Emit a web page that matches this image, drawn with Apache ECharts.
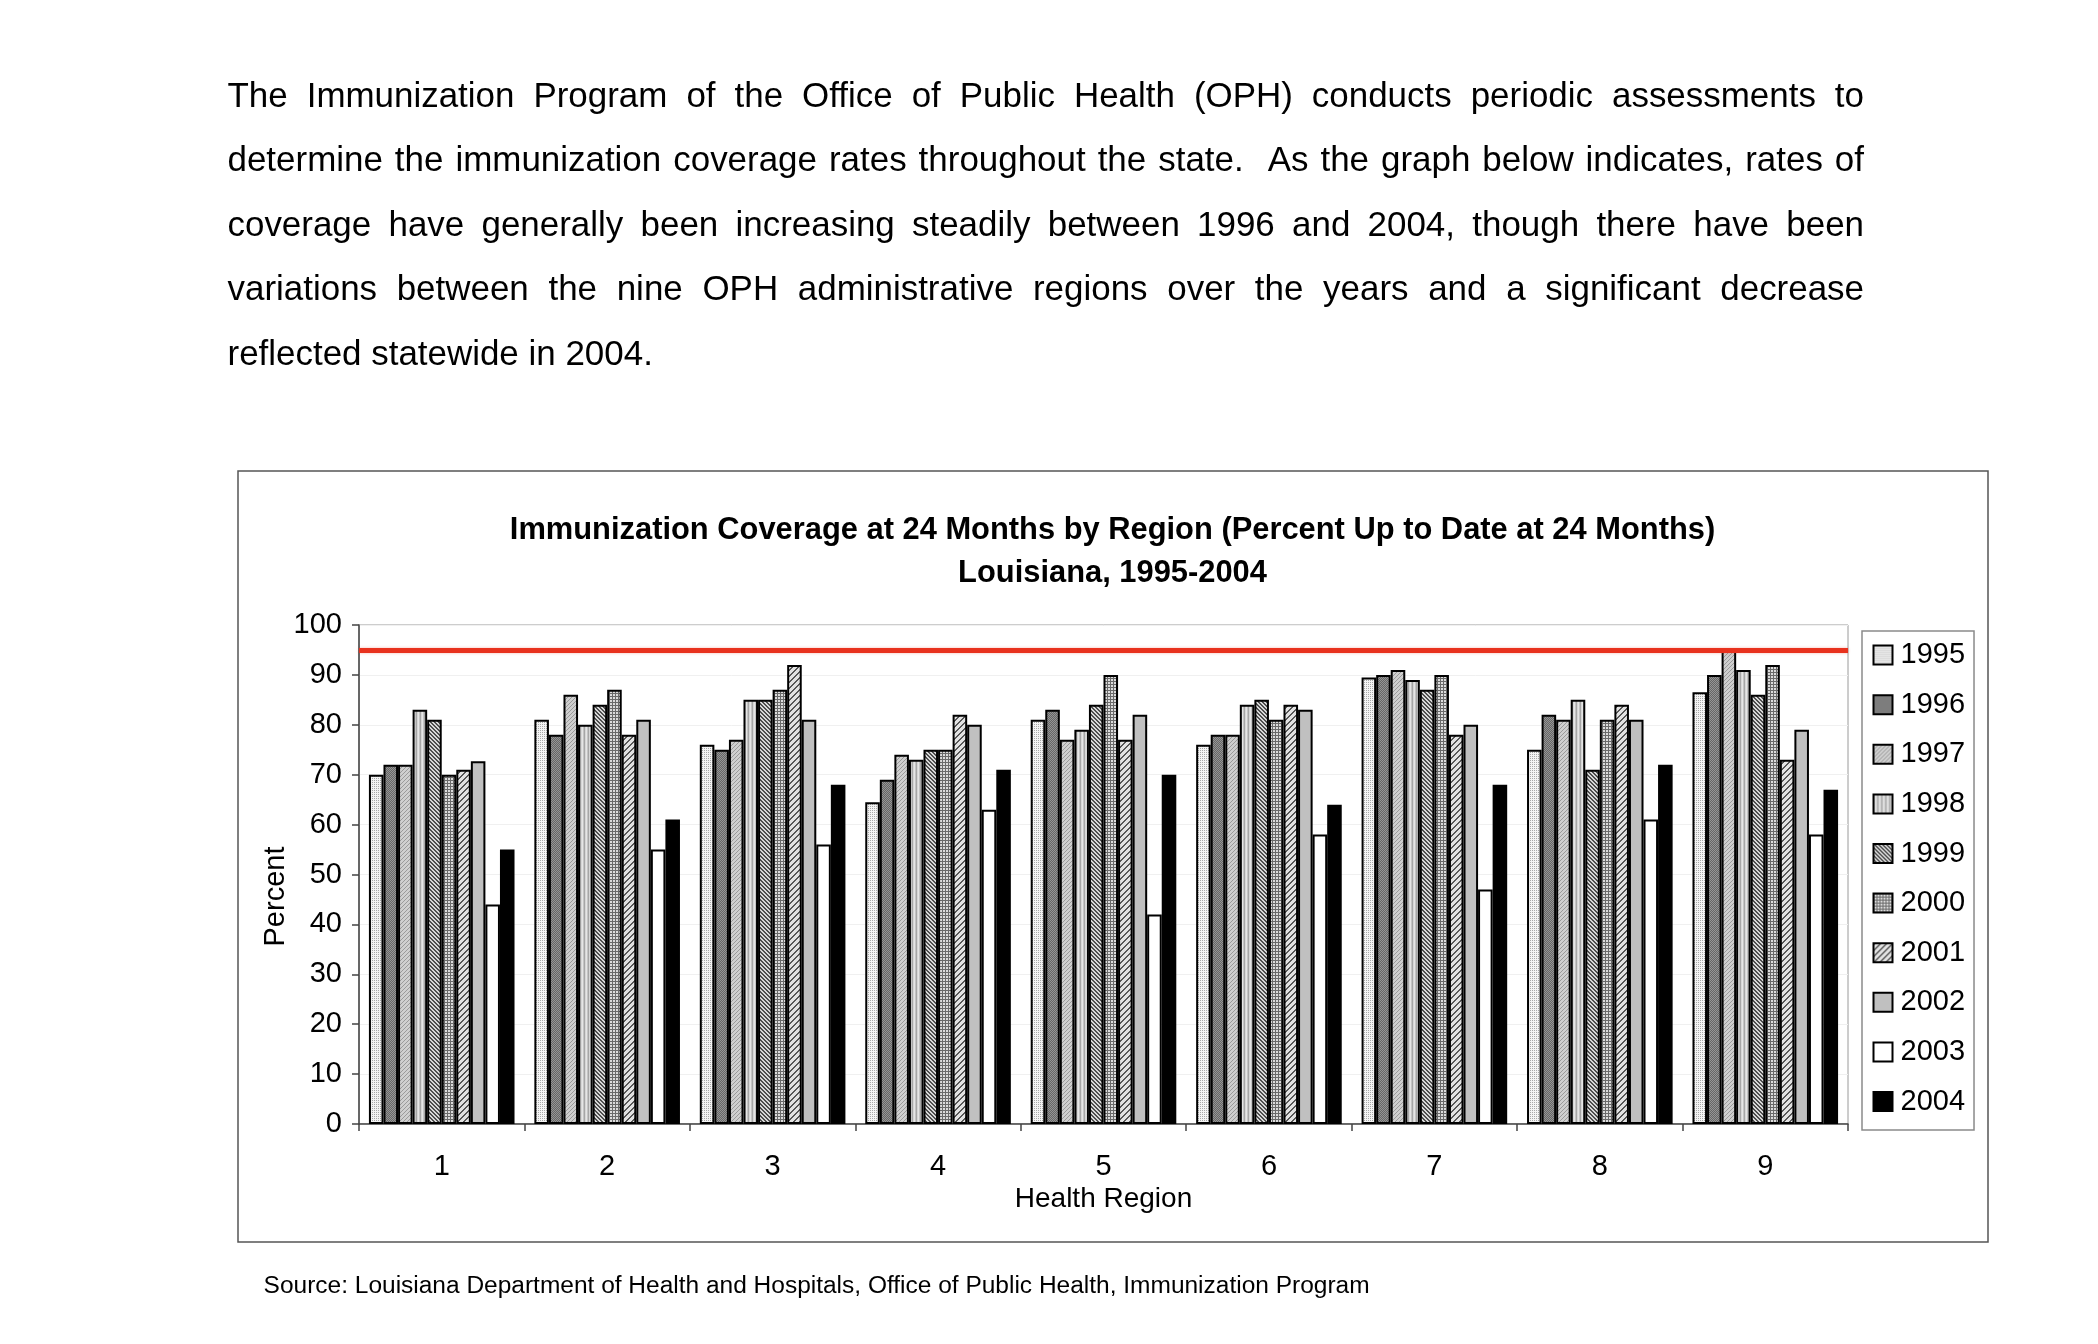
<!DOCTYPE html>
<html>
<head>
<meta charset="utf-8">
<script src="https://cdn.jsdelivr.net/npm/echarts@6.0.0/dist/echarts.min.js"></script>
<style>
  html, body { margin: 0; padding: 0; background: #ffffff; }
  #chart { width: 2098px; height: 1344px; }
</style>
</head>
<body>
<div id="chart"></div>
<script>
// ---------------- data ----------------
const regions = ['1', '2', '3', '4', '5', '6', '7', '8', '9'];
const years = ['1995', '1996', '1997', '1998', '1999', '2000', '2001', '2002', '2003', '2004'];
const v1995 = [70, 81, 76, 64.5, 81, 76, 89.5, 75, 86.5];
const v1996 = [72, 78, 75, 69, 83, 78, 90, 82, 90];
const v1997 = [72, 86, 77, 74, 77, 78, 91, 81, 95];
const v1998 = [83, 80, 85, 73, 79, 84, 89, 85, 91];
const v1999 = [81, 84, 85, 75, 84, 85, 87, 71, 86];
const v2000 = [70, 87, 87, 75, 90, 81, 90, 81, 92];
const v2001 = [71, 78, 92, 82, 77, 84, 78, 84, 73];
const v2002 = [72.7, 81, 81, 80, 82, 83, 80, 81, 79];
const v2003 = [44, 55, 56, 63, 42, 58, 47, 61, 58];
const v2004 = [55, 61, 68, 71, 70, 64, 68, 72, 67];
const targetLine = 95;
const yTicks = { min: 0, max: 100, interval: 10 };

const titleLines = [
  'Immunization Coverage at 24 Months by Region (Percent Up to Date at 24 Months)',
  'Louisiana, 1995-2004'
];
const paragraphLines = [
  'The Immunization Program of the Office of Public Health (OPH) conducts periodic assessments to',
  'determine the immunization coverage rates throughout the state.  As the graph below indicates, rates of',
  'coverage have generally been increasing steadily between 1996 and 2004, though there have been',
  'variations between the nine OPH administrative regions over the years and a significant decrease',
  'reflected statewide in 2004.'
];
const sourceText = 'Source: Louisiana Department of Health and Hospitals, Office of Public Health, Immunization Program';
const xName = 'Health Region';
const yName = 'Percent';

// ---------------- helpers ----------------
const FONT = '"Liberation Sans", Arial, Helvetica, sans-serif';
const mctx = document.createElement('canvas').getContext('2d');
function measure(text, size, weight) {
  mctx.font = (weight || 'normal') + ' ' + size + 'px ' + FONT;
  return mctx.measureText(text).width;
}
function fitSize(text, weight, target) {
  return target / measure(text, 100, weight) * 100;
}
function tile(w, h, fn) {
  const c = document.createElement('canvas');
  c.width = w; c.height = h;
  const g = c.getContext('2d');
  for (let y = 0; y < h; y++) {
    for (let x = 0; x < w; x++) {
      g.fillStyle = fn(x, y);
      g.fillRect(x, y, 1, 1);
    }
  }
  return { image: c, repeat: 'repeat' };
}

const fills = [
  tile(4, 4, (x, y) => ((x % 2 === 0 && y % 2 === 0) ? '#a8a8a8' : '#f4f4f4')),     // 1995
  tile(2, 2, (x, y) => ((x + y) % 2 ? '#666666' : '#959595')),                       // 1996
  tile(4, 4, (x, y) => ((x + y) % 4 === 0 ? '#9a9a9a' : '#cfcfcf')),                 // 1997
  tile(4, 1, (x) => ['#a6a6a6', '#d6d6d6', '#e6e6e6', '#c4c4c4'][x]),                 // 1998
  tile(4, 4, (x, y) => ((((x - y) % 4) + 4) % 4 < 2 ? '#4e4e4e' : '#d8d8d8')),       // 1999
  tile(3, 3, (x, y) => ((x === 0 || y === 0) ? '#6a6a6a' : '#dcdcdc')),              // 2000
  tile(6, 6, (x, y) => ((x + y) % 6 < 2 ? '#575757' : '#e2e2e2')),                   // 2001
  '#c0c0c0',                                                                          // 2002
  '#ffffff',                                                                          // 2003
  '#000000'                                                                           // 2004
];
const values = [v1995, v1996, v1997, v1998, v1999, v2000, v2001, v2002, v2003, v2004];

// ---------------- text layout ----------------
const paraLeft = 227.5, paraRight = 1864;
const paraSize = fitSize(paragraphLines[4], 'normal', 425.5);
const paraY = [97.5, 161.8, 226, 290.3, 355.8];
const graphics = [];

// chart frame
graphics.push({
  type: 'rect', z: -10, silent: true,
  shape: { x: 238, y: 471, width: 1750, height: 771 },
  style: { fill: 'none', stroke: '#555555', lineWidth: 1.5 }
});

paragraphLines.forEach((line, i) => {
  const words = line.split(' ');
  const justify = i < paragraphLines.length - 1;
  const widths = words.map(w => measure(w, paraSize));
  const total = widths.reduce((a, b) => a + b, 0);
  const gap = justify ? (paraRight - paraLeft - total) / (words.length - 1) : measure(' ', paraSize);
  let x = paraLeft;
  words.forEach((w, k) => {
    if (w.length) {
      graphics.push({
        type: 'text', x: x, y: paraY[i], silent: true,
        style: {
          text: w, fill: '#000', fontSize: paraSize, fontFamily: FONT,
          align: 'left', textAlign: 'left', verticalAlign: 'middle', textVerticalAlign: 'middle'
        }
      });
    }
    x += widths[k] + gap;
  });
});

const srcSize = fitSize(sourceText, 'normal', 1106.5);
graphics.push({
  type: 'text', x: 263.6, y: 1286, silent: true,
  style: {
    text: sourceText, fill: '#000', fontSize: srcSize, fontFamily: FONT,
    align: 'left', textAlign: 'left', verticalAlign: 'middle', textVerticalAlign: 'middle'
  }
});

graphics.push({
  type: 'text', x: 275.6, y: 896.5, rotation: Math.PI / 2, silent: true,
  style: {
    text: yName, fill: '#000', fontSize: 29, fontFamily: FONT,
    align: 'center', textAlign: 'center', verticalAlign: 'middle', textVerticalAlign: 'middle'
  }
});

const titleSize = fitSize(titleLines[0], 'bold', 1205.5);

// ---------------- series ----------------
const series = years.map((yr, i) => {
  const s = {
    name: yr,
    type: 'bar',
    data: values[i],
    barGap: '0%',
    barCategoryGap: '12%',
    itemStyle: { color: fills[i], borderColor: '#000000', borderWidth: 2 },
    emphasis: { disabled: true }
  };
  if (i === 0) {
    s.markLine = {
      silent: true,
      symbol: ['none', 'none'],
      label: { show: false },
      lineStyle: { color: '#e8321e', width: 5, type: 'solid', shadowColor: 'rgba(232,50,30,0.35)', shadowBlur: 3 },
      data: [{ yAxis: targetLine }]
    };
  }
  return s;
});

const chart = echarts.init(document.getElementById('chart'), null, { renderer: 'canvas' });
chart.setOption({
  animation: false,
  backgroundColor: '#ffffff',
  textStyle: { fontFamily: FONT },
  title: {
    text: titleLines.join('\n'),
    left: 1112.5,
    top: 508.5,
    textAlign: 'center',
    padding: 0,
    textStyle: { fontSize: titleSize, fontWeight: 'bold', color: '#000', lineHeight: 43, fontFamily: FONT }
  },
  legend: {
    orient: 'vertical',
    left: 1862,
    top: 631,
    padding: [9.6, 9, 14, 10.5],
    itemGap: 20.6,
    itemWidth: 19,
    itemHeight: 19,
    icon: 'rect',
    borderColor: '#8a8a8a',
    borderWidth: 1.5,
    selectedMode: false,
    itemStyle: { borderColor: '#000', borderWidth: 2 },
    textStyle: { fontSize: 29, color: '#000', fontFamily: FONT, padding: [0, 0, 0, 3] },
    data: years
  },
  grid: {
    left: 359, top: 625, width: 1489, height: 499,
    show: true, borderColor: '#9a9a9a', borderWidth: 1, backgroundColor: 'transparent',
    containLabel: false
  },
  xAxis: {
    type: 'category',
    data: regions,
    name: xName,
    nameLocation: 'middle',
    nameGap: 61,
    nameTextStyle: { fontSize: 28, color: '#000', fontFamily: FONT },
    axisLine: { show: true, lineStyle: { color: '#444', width: 1.5 } },
    axisTick: { show: true, alignWithLabel: false, length: 7, lineStyle: { color: '#444', width: 1.5 } },
    axisLabel: { fontSize: 29, color: '#000', margin: 28, fontFamily: FONT },
    splitLine: { show: false }
  },
  yAxis: {
    type: 'value',
    min: yTicks.min, max: yTicks.max, interval: yTicks.interval,
    axisLine: { show: true, lineStyle: { color: '#444', width: 1.5 } },
    axisTick: { show: true, length: 7, lineStyle: { color: '#444', width: 1.5 } },
    axisLabel: { fontSize: 29, color: '#000', margin: 17, fontFamily: FONT },
    splitLine: { show: true, lineStyle: { color: '#f0f0f0', width: 1 } }
  },
  graphic: graphics,
  series: series
});
</script>
</body>
</html>
